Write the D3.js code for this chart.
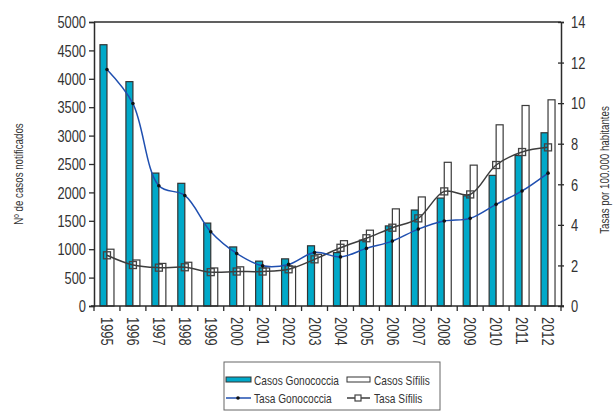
<!DOCTYPE html>
<html><head><meta charset="utf-8">
<script src="https://cdn.jsdelivr.net/npm/d3@7"></script>
<style>
body{margin:0;background:#fff;}
svg{display:block;font-family:"Liberation Sans",Arial,sans-serif;}
</style></head>
<body><svg id="c" width="616" height="418"></svg>
<script>
const years = ["1995","1996","1997","1998","1999","2000","2001","2002","2003","2004","2005","2006","2007","2008","2009","2010","2011","2012"];
const casosGonococcia = [4600,3950,2340,2160,1460,1040,790,830,1060,940,1160,1410,1690,1900,1940,2300,2650,3050];
const casosSifilis = [1000,810,750,770,670,690,670,700,910,1150,1335,1710,1920,2530,2480,3190,3530,3630];
const tasaGonococcia = [11.66,9.98,5.93,5.45,3.66,2.59,1.98,2.05,2.64,2.42,2.84,3.20,3.79,4.19,4.32,5.01,5.67,6.55];
const tasaSifilis = [2.50,2.02,1.89,1.91,1.67,1.70,1.70,1.81,2.30,2.87,3.34,3.86,4.32,5.65,5.50,6.95,7.59,7.82];
const leftTicks = [0,500,1000,1500,2000,2500,3000,3500,4000,4500,5000];
const rightTicks = [0,2,4,6,8,10,12,14];

const svg = d3.select("#c");
const L = 94, R = 561, T = 22, B = 306;
const ink = "#2b2b2b";
const SX = 0.78;
const x = d3.scaleBand().domain(years).range([L, R]).padding(0);
const yL = d3.scaleLinear().domain([0,5000]).range([B, T]);
const yR = d3.scaleLinear().domain([0,14]).range([B, T]);
const bw = 7;
const cx = d => x(d) + x.bandwidth()/2;

// bars
svg.append("g").selectAll("rect").data(years).join("rect")
  .attr("x", (d)=>cx(d)-bw).attr("width", bw)
  .attr("y", (d,i)=>yL(casosGonococcia[i])).attr("height", (d,i)=>B-yL(casosGonococcia[i]))
  .attr("fill","#00a9c9").attr("stroke","#333").attr("stroke-width",1.2);
svg.append("g").selectAll("rect").data(years).join("rect")
  .attr("x", (d)=>cx(d)).attr("width", bw)
  .attr("y", (d,i)=>yL(casosSifilis[i])).attr("height", (d,i)=>B-yL(casosSifilis[i]))
  .attr("fill","#fff").attr("stroke","#3a3a3a").attr("stroke-width",1.2);

// lines
const lineG = d3.line().x((d,i)=>cx(years[i])).y(d=>yR(d)).curve(d3.curveCatmullRom.alpha(0.5));
svg.append("path").datum(tasaSifilis).attr("d", lineG).attr("fill","none").attr("stroke","#3d3d3d").attr("stroke-width",1.5);
svg.append("g").selectAll("rect").data(tasaSifilis).join("rect")
  .attr("x",(d,i)=>cx(years[i])-3.5).attr("y",d=>yR(d)-3.5).attr("width",7).attr("height",7)
  .attr("fill","none").attr("stroke","#444").attr("stroke-width",1.3);
svg.append("path").datum(tasaGonococcia).attr("d", lineG).attr("fill","none").attr("stroke","#1f4fb0").attr("stroke-width",1.5);
svg.append("g").selectAll("circle").data(tasaGonococcia).join("circle")
  .attr("cx",(d,i)=>cx(years[i])).attr("cy",d=>yR(d)).attr("r",1.8).attr("fill","#111");

// axes
const gL = svg.append("g").attr("transform",`translate(${L},0)`)
  .call(d3.axisLeft(yL).tickValues(leftTicks).tickSize(5).tickFormat(d3.format("d")));
const gR = svg.append("g").attr("transform",`translate(${R},0)`)
  .call(d3.axisRight(yR).tickValues(rightTicks).tickSize(3));
gR.selectAll(".tick line").attr("x1",-3).attr("x2",3);
const gB = svg.append("g").attr("transform",`translate(0,${B})`)
  .call(d3.axisBottom(x).tickSize(0));
[gL,gR,gB].forEach(g=>{
  g.select(".domain").attr("stroke",ink).attr("stroke-width",1.5);
  g.selectAll(".tick line").attr("stroke",ink).attr("stroke-width",1.3);
  g.selectAll("text").attr("fill","#333").style("font-size","16.5px").style("font-family","inherit").attr("x",0).attr("y",0).attr("dy","0.35em");
});
gL.selectAll(".tick text").attr("text-anchor","end").attr("transform",`translate(-8,0) scale(${SX},1)`);
gR.selectAll(".tick text").attr("text-anchor","start").attr("transform",`translate(10,0) scale(${SX},1)`);
gB.selectAll(".tick text").attr("text-anchor","start").attr("transform",`translate(0,11) rotate(90) scale(${SX},1)`);
// boundary ticks on the x axis
const bounds = years.map(d=>x(d)).concat([R]);
svg.append("g").selectAll("line").data(bounds).join("line")
  .attr("x1",d=>d).attr("x2",d=>d).attr("y1",B).attr("y2",B+5)
  .attr("stroke",ink).attr("stroke-width",1.3);
gB.select(".domain").attr("d",`M${L-3},0H${R+3}`);
// top frame
svg.append("line").attr("x1",L).attr("x2",R).attr("y1",T).attr("y2",T).attr("stroke",ink).attr("stroke-width",1.5);

// titles
svg.append("text").attr("transform",`translate(23,174) rotate(-90) scale(${SX},1)`).attr("text-anchor","middle")
  .attr("fill","#333").style("font-size","12.5px").text("Nº de casos notificados");
svg.append("text").attr("transform",`translate(609,170) rotate(-90) scale(${SX},1)`).attr("text-anchor","middle")
  .attr("fill","#333").style("font-size","12.5px").text("Tasas por 100.000 habitantes");

// legend
const lg = svg.append("g");
lg.append("rect").attr("x",224).attr("y",362).attr("width",216).attr("height",48)
  .attr("fill","#fff").attr("stroke","#666").attr("stroke-width",1);
const labels = ["Casos Gonococcia","Casos Sífilis","Tasa Gonococcia","Tasa Sífilis"];
lg.append("rect").attr("x",226).attr("y",377).attr("width",25).attr("height",5).attr("fill","#00a9c9").attr("stroke","#333").attr("stroke-width",1);
lg.append("rect").attr("x",347).attr("y",377).attr("width",23).attr("height",5).attr("fill","#fff").attr("stroke","#333").attr("stroke-width",1);
lg.append("line").attr("x1",226).attr("x2",251).attr("y1",398).attr("y2",398).attr("stroke","#1f4fb0").attr("stroke-width",1.5);
lg.append("circle").attr("cx",238).attr("cy",398).attr("r",1.8).attr("fill","#111");
lg.append("line").attr("x1",347).attr("x2",370).attr("y1",398).attr("y2",398).attr("stroke","#3d3d3d").attr("stroke-width",1.5);
lg.append("rect").attr("x",355).attr("y",395).attr("width",6).attr("height",6).attr("fill","#fff").attr("stroke","#444").attr("stroke-width",1.2);
const lpos = [[254,380],[374,380],[254,398],[374,398]];
lg.selectAll("text.l").data(labels).join("text").attr("class","l")
  .attr("transform",(d,i)=>`translate(${lpos[i][0]},${lpos[i][1]}) scale(${SX},1)`).attr("dy","0.35em")
  .attr("fill","#333").style("font-size","13px").text(d=>d);
</script></body></html>
